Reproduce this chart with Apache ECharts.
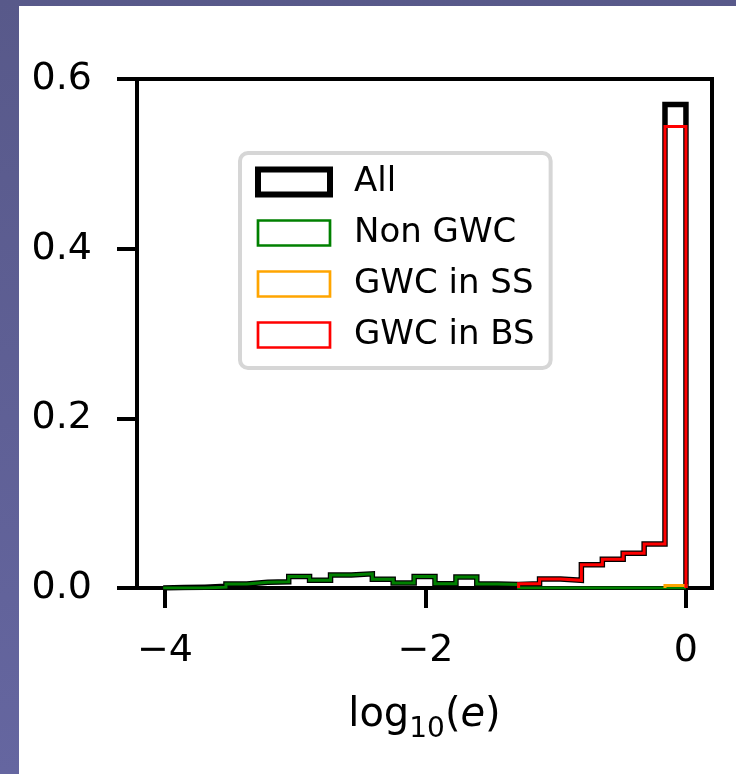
<!DOCTYPE html>
<html><head><meta charset="utf-8">
<script src="https://cdn.jsdelivr.net/npm/echarts@6/dist/echarts.min.js"></script>
<style>
html,body{margin:0;padding:0;width:736px;height:774px;overflow:hidden;background:linear-gradient(#58598a,#6566a0);}
#panel{position:absolute;left:19px;top:6px;width:717px;height:768px;background:#fff;}
#chart{position:absolute;left:0;top:0;width:736px;height:774px;}
</style></head><body>
<div id="panel"></div><div id="chart"></div>
<script>
// histogram bin edges (log10 e)
const binEdges = [-4.014, -3.853, -3.693, -3.532, -3.372, -3.211, -3.050, -2.890, -2.729, -2.569,
  -2.408, -2.248, -2.087, -1.927, -1.766, -1.606, -1.445, -1.285, -1.124, -0.963,
  -0.803, -0.642, -0.482, -0.321, -0.161, 0.000];
const seriesNames = ['All', 'Non GWC', 'GWC in SS', 'GWC in BS'];
// fraction per bin (null = outside that histogram's drawn range)
const allValues = [0.0005, 0.001, 0.002, 0.0048, 0.0067, 0.0074, 0.0135, 0.0092, 0.0153, 0.0167,
  0.0102, 0.006, 0.0136, 0.005, 0.013, 0.0048, 0.0042, 0.005, 0.0106, 0.009,
  0.0275, 0.034, 0.041, 0.052, 0.570];
const nonGwcValues = [0, 0, 0.001, 0.0048, 0.0067, 0.0074, 0.0135, 0.0092, 0.0153, 0.0167,
  0.0102, 0.006, 0.0136, 0.005, 0.013, 0.0048, 0.0042, 0, 0, 0,
  0, 0, 0, 0, 0];
const gwcSsValues = [null, null, null, null, null, null, null, null, null, null,
  null, null, null, null, null, null, null, null, null, null,
  null, null, null, null, 0.003];
const gwcBsValues = [null, null, null, null, null, null, null, null, null, null,
  null, null, null, null, null, null, null, 0.005, 0.0106, 0.009,
  0.0275, 0.034, 0.041, 0.052, 0.544];
const xTicks = [-4, -2, 0];
const yTicks = [0, 0.2, 0.4, 0.6];
const colors = ['#000000', '#008000', '#ffa500', '#ff0000'];
const widths = [5.5, 3, 3, 3];

function outline(vals) {
  let first = vals.findIndex(v => v !== null);
  let last = vals.length - 1;
  while (last >= 0 && vals[last] === null) last--;
  const pts = [[binEdges[first], 0]];
  for (let i = first; i <= last; i++) {
    pts.push([binEdges[i], vals[i]]);
    pts.push([binEdges[i + 1], vals[i]]);
  }
  pts.push([binEdges[last + 1], 0]);
  return pts;
}
const valueSets = [allValues, nonGwcValues, gwcSsValues, gwcBsValues];
const FONT = 'DejaVu Sans';

const chart = echarts.init(document.getElementById('chart'), null, {renderer: 'canvas'});
chart.setOption({
  animation: false,
  backgroundColor: 'transparent',
  grid: {left: 137, top: 79, width: 575, height: 509, show: true, borderColor: '#000', borderWidth: 4, backgroundColor: 'transparent'},
  xAxis: {
    type: 'value', min: -4.215, max: 0.2,
    splitLine: {show: false},
    axisLine: {show: true, onZero: false, lineStyle: {color: '#000', width: 4}},
    axisTick: {show: true, customValues: xTicks, length: 20, lineStyle: {color: '#000', width: 4}},
    axisLabel: {customValues: xTicks, fontSize: 38, fontFamily: FONT, color: '#000', margin: 44,
      formatter: v => String(v).replace('-', '\u2212')},
    name: '{a|log}{s|10}{a|(}{i|e}{a|)}',
    nameLocation: 'middle', nameGap: 102,
    nameTextStyle: {
      rich: {
        a: {fontSize: 40, fontFamily: FONT, color: '#000', verticalAlign: 'bottom', lineHeight: 46},
        s: {fontSize: 28, fontFamily: FONT, color: '#000', verticalAlign: 'bottom', lineHeight: 46, padding: [0, 0, -8, 0]},
        i: {fontSize: 40, fontFamily: FONT, fontStyle: 'italic', color: '#000', verticalAlign: 'bottom', lineHeight: 46}
      }
    }
  },
  yAxis: {
    type: 'value', min: 0, max: 0.6, interval: 0.2,
    splitLine: {show: false},
    axisLine: {show: true, onZero: false, lineStyle: {color: '#000', width: 4}},
    axisTick: {show: true, length: 20, lineStyle: {color: '#000', width: 4}},
    axisLabel: {fontSize: 38, fontFamily: FONT, color: '#000', margin: 45, formatter: v => v.toFixed(1)}
  },
  legend: {
    orient: 'vertical', left: 240, top: 153,
    padding: [12, 16, 16, 15],
    itemWidth: 72, itemHeight: 25, itemGap: 17,
    selectedMode: false,
    backgroundColor: '#ffffff', borderColor: '#d6d6d6', borderWidth: 4, borderRadius: 8,
    textStyle: {fontSize: 34, fontFamily: FONT, color: '#000', lineHeight: 34, padding: [0, 0, 0, 19]},
    data: seriesNames.map((n, k) => ({
      name: n, icon: 'rect',
      itemStyle: {color: 'rgba(0,0,0,0)', borderColor: colors[k], borderWidth: k === 0 ? 6 : 2.7}
    }))
  },
  series: seriesNames.map((n, k) => ({
    name: n, type: 'line', symbol: 'none', z: 2 + k,
    data: outline(valueSets[k]),
    lineStyle: {color: colors[k], width: widths[k], join: 'miter', cap: 'butt'},
    itemStyle: {color: colors[k]}
  }))
});
</script>
</body></html>
